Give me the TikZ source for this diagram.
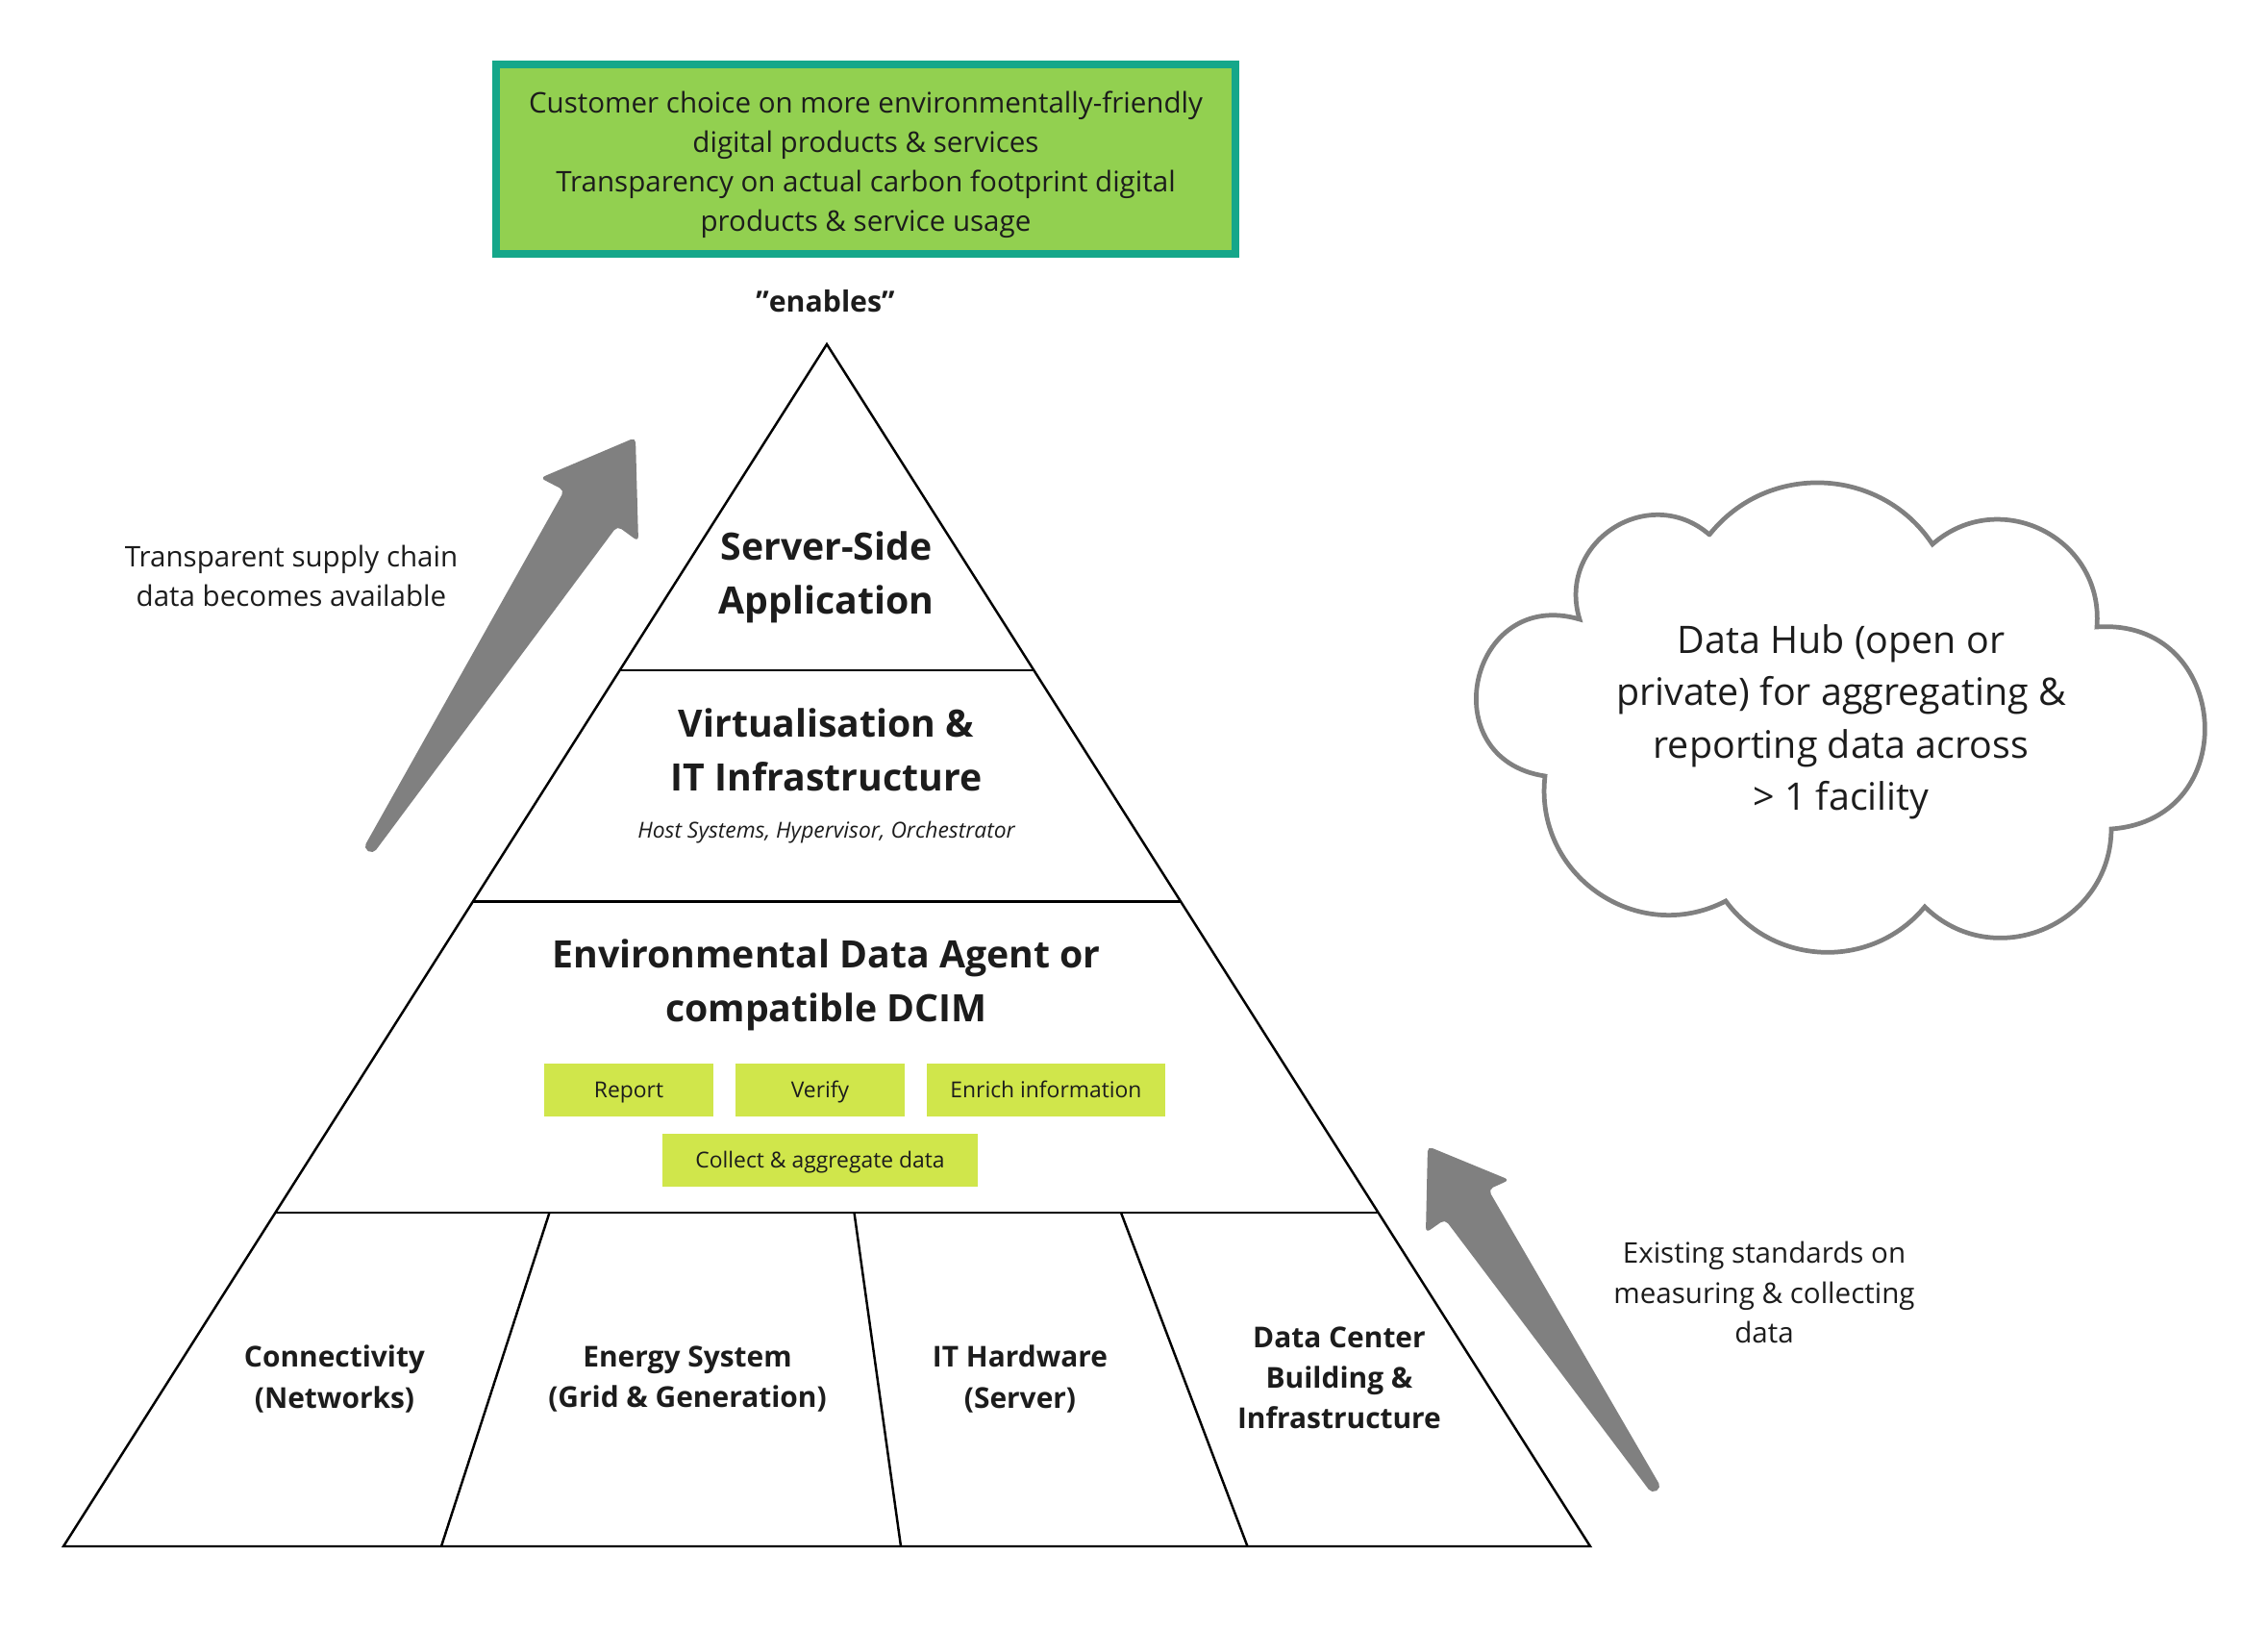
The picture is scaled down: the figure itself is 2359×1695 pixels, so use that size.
\documentclass[tikz,border=0pt]{standalone}
\usepackage{fontspec}
\setmainfont{Open Sans}
\usetikzlibrary{calc}

\definecolor{goalgreen}{HTML}{92D050}
\definecolor{goalteal}{HTML}{15A78A}
\definecolor{tasklime}{HTML}{D0E64B}
\definecolor{arrowgray}{HTML}{808080}
\definecolor{inkblack}{HTML}{1C1C1C}

\tikzset{
  pyrline/.style={line width=0.7pt, black},
  layertitle/.style={font=\bfseries\fontsize{11.15}{15.9}\selectfont, align=center, text=inkblack},
  pillarlabel/.style={font=\bfseries\fontsize{8.5}{12}\selectfont, align=center, text=inkblack},
  sidenote/.style={font=\fontsize{8.4}{11.8}\selectfont, align=center, text=inkblack},
  taskbox/.style={fill=tasklime, font=\fontsize{6.5}{8}\selectfont, text=inkblack,
    minimum height=0.55cm, inner sep=0pt, text height=5.6pt, text depth=0.8pt},
  bigarrow/.style={fill=arrowgray, rounded corners=1.5pt},
}

\begin{document}
\begin{tikzpicture}[x=0.01cm, y=0.01cm]
  \useasboundingbox (0,0) rectangle (2359,-1695);

  % Goal box on top
  \node[draw=goalteal, line width=2.3pt, fill=goalgreen, minimum width=7.69cm, minimum height=1.973cm]
    (goal) at (900.5,-165.5) {};
  \node[font=\fontsize{8.4}{11.7}\selectfont, align=center, text=inkblack] (goaltext) at (900.5,-171)
    {Customer choice on more environmentally-friendly\\digital products \& services\\
     Transparency on actual carbon footprint digital\\products \& service usage};
  \node[font=\bfseries\fontsize{8.6}{11}\selectfont, text=inkblack] (enables) at (858.5,-313) {”enables”};

  % Pyramid
  \coordinate (apex) at (860,-358);
  \coordinate (bl) at (66,-1608);
  \coordinate (br) at (1654,-1608);
  \draw[pyrline] (apex) -- (bl) -- (br) -- cycle;
  \foreach \t in {0.2712,0.4636,0.7224}
    \draw[pyrline] ($(apex)!\t!(bl)$) -- ($(apex)!\t!(br)$);
  \draw[pyrline] (571.5,-1261) -- (459,-1608);
  \draw[pyrline] (888.5,-1261) -- (937,-1608);
  \draw[pyrline] (1166,-1261) -- (1297.5,-1608);

  % Layers
  \node[layertitle] (server) at (859.5,-600) {Server-Side\\Application};
  \node[layertitle] (virt) at (859.5,-780) {Virtualisation \&\\IT Infrastructure};
  \node[font=\itshape\fontsize{6.5}{8}\selectfont, text=inkblack] (hosts) at (859.5,-866)
    {Host Systems, Hypervisor, Orchestrator};
  \node[layertitle] (agent) at (859.5,-1024) {Environmental Data Agent or\\compatible DCIM};
  \node[taskbox, minimum width=1.76cm] (report) at (654,-1133.5) {Report};
  \node[taskbox, minimum width=1.76cm] (verify) at (853,-1133.5) {Verify};
  \node[taskbox, minimum width=2.48cm] (enrich) at (1088,-1133.5) {Enrich information};
  \node[taskbox, minimum width=3.28cm] (collect) at (853,-1206.5) {Collect \& aggregate data};

  % Bottom pillars
  \node[pillarlabel] (network) at (348,-1434) {Connectivity\\(Networks)};
  \node[pillarlabel] (energy) at (715,-1434) {Energy System\\(Grid \& Generation)};
  \node[pillarlabel] (hardware) at (1061,-1434) {IT Hardware\\(Server)};
  \node[pillarlabel] (building) at (1393,-1433) {Data Center\\Building \&\\Infrastructure};

  % Side arrows and notes
  \fill[bigarrow] (378,-882) -- (587,-510) -- (562,-497) -- (661,-455) -- (664,-563)
    -- (642,-547) -- (388,-888) -- cycle;
  \node[sidenote] (supply) at (303,-599) {Transparent supply chain\\data becomes available};
  \fill[bigarrow] (1728,-1547) -- (1548,-1237) -- (1570,-1227) -- (1485,-1192) -- (1483,-1282)
    -- (1503,-1268) -- (1718,-1553) -- cycle;
  \node[sidenote] (standards) at (1835,-1344) {Existing standards on\\measuring \& collecting\\data};

  % Data hub cloud
  \draw[arrowgray, line width=1.35pt, line cap=round]
    (1778,-556) to[bend left=54, looseness=1.07] (2010,-566)
    to[bend left=68, looseness=1.24] (2181,-652)
    to[bend left=90, looseness=1.7] (2196,-862)
    to[bend left=67, looseness=1.22] (2002,-943)
    to[bend left=52, looseness=1.05] (1795,-937)
    to[bend left=62, looseness=1.16] (1607,-807)
    to[bend left=94, looseness=1.83] (1643,-644)
    to[bend left=74, looseness=1.33] (1778,-556);
  \node[font=\fontsize{11.2}{15.5}\selectfont, align=center, text=inkblack] (hub) at (1915,-751)
    {Data Hub (open or\\private) for aggregating \&\\reporting data across\\> 1 facility};
\end{tikzpicture}
\end{document}
